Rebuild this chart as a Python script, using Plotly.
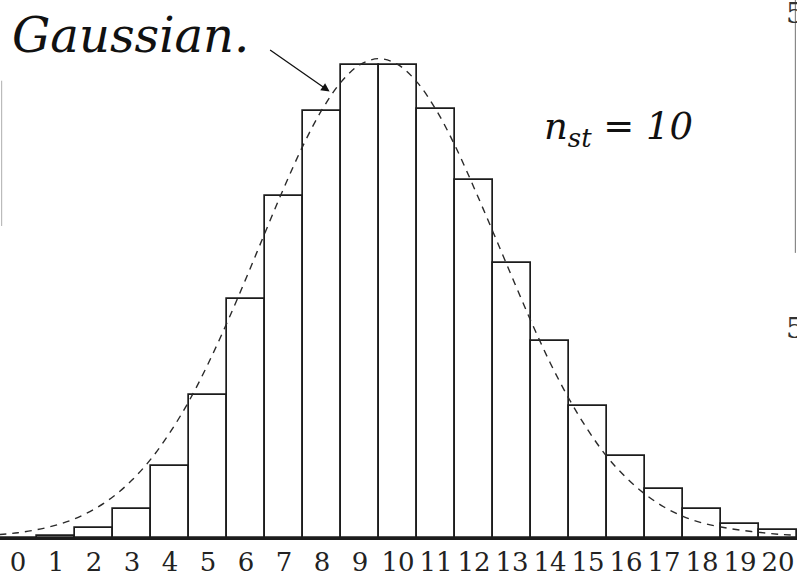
import plotly.graph_objects as go

# ---- data ----
classes = list(range(0, 21))
tick_labels = [str(c) for c in classes]
frequency = [0.1, 0.5, 2.6, 7.6, 18.9, 37.8, 63.2, 90.3, 112.8, 125.1, 125.1,
             113.3, 94.7, 72.7, 52.2, 34.9, 21.8, 12.9, 7.6, 3.7, 2.1]

gauss_x = [-0.5, 0, 0.5, 1, 1.5, 2, 2.5, 3, 3.5, 4, 4.5, 5, 5.5, 6, 6.5, 7, 7.5, 8, 8.5, 9,
           9.5, 10, 10.5, 11, 11.5, 12, 12.5, 13, 13.5, 14, 14.5, 15, 15.5, 16, 16.5, 17,
           17.5, 18, 18.5, 19, 19.5, 20, 20.5]
gauss_y = [0.9, 1.4, 2.2, 3.4, 5.1, 7.6, 10.9, 15.3, 20.9, 27.9, 36.2, 46.0, 56.9, 68.6,
           80.7, 92.6, 103.7, 113.2, 120.5, 125.1,
           126.7, 125.1, 120.5, 113.2, 103.7, 92.6, 80.9, 69.0, 57.3, 46.4, 36.8, 28.5,
           21.5, 16.0, 11.6, 8.2, 5.7, 4.0, 2.9, 2.1, 1.5, 1.0, 0.7]

INK = "#1c1c1c"
SERIF = "DejaVu Serif"

fig = go.Figure()
fig.add_trace(go.Bar(
    x=classes, y=frequency, width=1.0,
    marker=dict(color="white", line=dict(color=INK, width=1.7)),
    hoverinfo="x+y", showlegend=False,
))
fig.add_trace(go.Scatter(
    x=gauss_x, y=gauss_y, mode="lines", line_shape="spline",
    line=dict(color="#2a2a2a", width=1.4, dash="7px,6px"),
    showlegend=False, cliponaxis=True,
))

fig.update_layout(
    width=797, height=577,
    margin=dict(l=0, r=0, t=0, b=35),
    paper_bgcolor="white", plot_bgcolor="white",
    font=dict(family=SERIF),
    bargap=0,
    xaxis=dict(range=[-0.474, 20.5], tickmode="array", tickvals=classes, ticktext=tick_labels,
               showgrid=False, zeroline=False, showline=True, linecolor=INK, linewidth=1.5,
               ticks="", tickfont=dict(family=SERIF, size=26, color="#222222")),
    yaxis=dict(range=[0, 142.2], visible=False),
)

# "Gaussian." label and arrow
fig.add_annotation(xref="paper", yref="paper", x=0.012, y=0.99, xanchor="left", yanchor="top",
                   text="<i>Gaussian.</i>", showarrow=False,
                   font=dict(family=SERIF, size=48, color="#111111"))
fig.add_annotation(x=8.2, y=118, text=" ", showarrow=True, ax=-63, ay=-44,
                   arrowhead=2, arrowsize=1.3, arrowwidth=1.3, arrowcolor="#111111")

# n_st = 10 label
fig.add_annotation(xref="paper", yref="paper", x=0.776, y=0.76, xanchor="center", yanchor="middle",
                   text="<i>n</i><sub><i>st</i></sub> = <i>10</i>", showarrow=False,
                   font=dict(family=SERIF, size=37, color="#111111"))

# partially visible glyphs at the right page edge
for yy in [0.975, 0.39]:
    fig.add_annotation(xref="paper", yref="paper", x=1.0, y=yy, xanchor="left", yanchor="middle",
                       xshift=-13, text="5", showarrow=False,
                       font=dict(family=SERIF, size=28, color="#333333"))

# faint scan edges
fig.add_shape(type="line", xref="paper", yref="paper", x0=0.998, x1=0.998, y0=0.53, y1=1.0,
              line=dict(color="#888888", width=1.2))
fig.add_shape(type="line", xref="paper", yref="paper", x0=0.002, x1=0.002, y0=0.58, y1=0.85,
              line=dict(color="#bbbbbb", width=1.2))

fig.write_html("out.html")
